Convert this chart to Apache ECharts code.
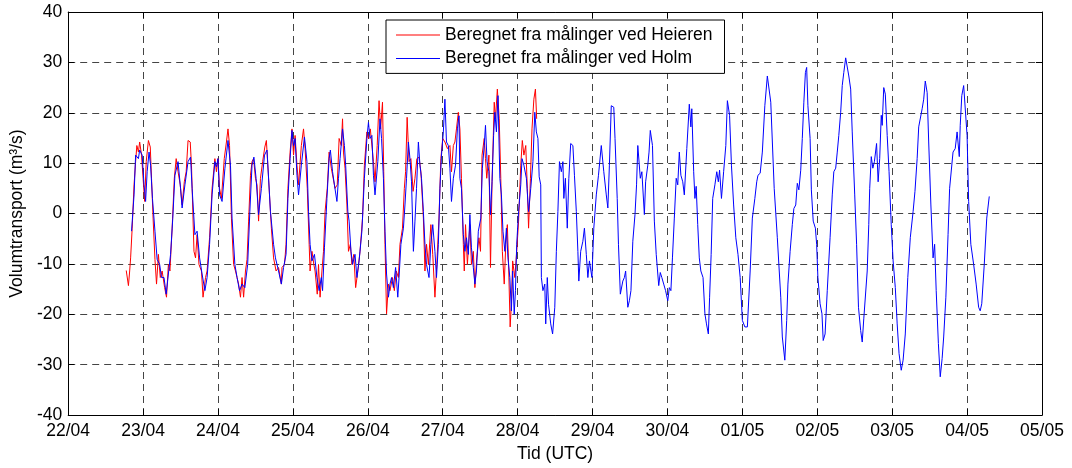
<!DOCTYPE html>
<html>
<head>
<meta charset="utf-8">
<script src="https://cdn.jsdelivr.net/npm/echarts@6/dist/echarts.min.js"></script>
<style>
  html, body { margin: 0; padding: 0; background: #fff; }
  #chart { width: 1072px; height: 468px; }
</style>
</head>
<body>
<div id="chart"></div>
<script>
// x in hours since 22/04 00:00 UTC, y in m3/s
const xTickLabels = ['22/04', '23/04', '24/04', '25/04', '26/04', '27/04', '28/04',
  '29/04', '30/04', '01/05', '02/05', '03/05', '04/05', '05/05'];
const yTicks = [-40, -30, -20, -10, 0, 10, 20, 30, 40];
const seriesNames = ['Beregnet fra målinger ved Heieren', 'Beregnet fra målinger ved Holm'];

const heieren = [
  [18.6,-11.3],[19.3,-14.3],[19.7,-11.4],[20.0,-8.8],[20.5,-2.9],[21.1,5.7],[21.6,10.3],[22.0,13.5],[22.5,12.2],[22.9,14.2],
  [23.5,11.6],[24.0,7],[24.5,2.4],[25.0,10.3],[25.7,14.5],[26.3,13.2],[26.7,7],[27.2,-0.9],[27.8,-9.1],[28.3,-14],
  [28.9,-8.1],[29.5,-12.7],[30.1,-11.4],[30.9,-14.7],[31.5,-16.6],[32.1,-10.1],[32.6,-11.4],[33.3,-2.9],[34.0,7],[34.6,10.9],
  [35.2,8.3],[35.9,5.7],[36.5,1.7],[37.2,6.3],[37.8,8.3],[38.4,14.5],[39.1,14.2],[39.5,9.6],[40.3,-7.5],[40.8,-8.8],
  [41.3,-4.2],[41.9,-10.1],[42.7,-11.4],[43.2,-16.6],[44.0,-12.7],[44.5,-11.4],[45.3,-4.8],[46.1,5],[47.0,10.9],[47.5,8.3],
  [48.0,10.9],[48.5,5],[49.1,3],[50.0,10.9],[50.7,14.2],[51.2,16.8],[51.7,13.5],[52.3,-0.9],[53.0,-10.1],[53.6,-11.4],
  [54.1,-12.7],[54.6,-14],[55.2,-16.6],[55.7,-12.7],[56.2,-16.6],[56.8,-11.4],[57.3,-9.1],[57.8,-1.5],[58.4,7.6],[58.9,10.3],
  [59.4,10.9],[60.0,7],[60.5,5.7],[61.0,-1.5],[61.6,7],[62.3,10.3],[63.0,13.2],[63.5,14.5],[64.2,7],[65.1,-2.9],
  [65.8,-8.8],[66.6,-11.4],[67.4,-10.7],[68.3,-14],[68.5,-10.7],[69.3,-10.1],[69.8,-6.1],[70.4,5],[71.1,12.2],[71.7,16.8],
  [72.2,11.6],[72.7,15.5],[73.3,9.6],[73.8,5.7],[74.7,13.5],[75.4,16.8],[75.9,12.9],[76.6,5],[77.2,-6.1],[77.5,-11.4],
  [78.1,-7.5],[78.7,-10.1],[79.1,-11.4],[79.8,-16],[80.2,-10.1],[80.7,-16.6],[81.3,-11.4],[81.8,-7.5],[82.3,0.4],[83.0,5],
  [83.6,12.2],[84.3,9],[84.9,9],[85.5,5],[86.2,5.7],[86.8,14.9],[87.5,13.5],[87.9,18.8],[88.2,12.2],[88.7,9],
  [89.3,1.7],[89.8,-7.5],[90.4,-6.1],[90.9,-10.1],[91.5,-8.1],[92.1,-14.7],[92.8,-11.4],[93.5,-7.5],[94.3,-0.9],[94.9,9.6],
  [95.7,16.2],[96.2,14.9],[96.8,16.8],[97.2,14.2],[97.8,10.3],[98.3,6.3],[99.0,13.5],[99.6,22.4],[100.1,16.8],[100.7,22.1],
  [101.1,8.3],[101.5,-6.1],[102.0,-19.9],[102.6,-14],[103.1,-15.3],[103.9,-12.7],[104.5,-15.3],[105.1,-11.4],[105.8,-12.7],[106.3,-6.1],
  [107.1,-2.9],[107.7,5],[108.1,8.3],[108.6,19.1],[109.2,10.3],[109.8,10.9],[110.5,4.4],[111.1,7],[111.7,10.9],[112.4,11.2],
  [113.0,8.3],[113.8,-0.9],[114.3,-11.4],[114.8,-6.1],[115.4,-10.1],[116.2,-2.2],[116.8,-8.1],[117.5,-16.6],[118.1,-10.1],[118.8,-0.9],
  [119.4,10.9],[120.0,14.9],[120.7,14.2],[121.5,12.9],[122.3,13.5],[122.8,8.3],[123.4,13.5],[123.9,14.2],[124.4,16.8],[125.0,20.1],
  [125.5,16.8],[126.0,7],[126.6,-6.1],[126.9,-11.4],[127.3,-2.2],[127.9,-10.1],[128.7,-2.2],[129.2,-10.1],[129.8,-7.5],[130.3,-14.7],
  [130.9,-8.8],[131.6,-4.8],[132.1,-7.5],[132.6,11.6],[133.3,14.9],[133.7,10.9],[134.1,7],[134.8,11.6],[135.3,-10.7],[135.8,6.3],
  [136.5,22.1],[136.9,18.8],[137.5,24.7],[138.1,18.8],[138.6,7],[139.1,-7.5],[139.7,-14],[140.2,-6.1],[140.7,-2.2],[141.1,-10.1],
  [141.6,-22.5],[142.0,-18],[142.4,-9.4],[143.1,-12.7],[143.7,-7.5],[144.3,-1.5],[145.0,9.6],[145.5,14.5],[146.0,11.6],[146.6,13.5],
  [147.1,5],[147.5,-2.9],[148.1,7],[148.6,16.8],[149.2,22.7],[149.7,24.7],[150.1,18.8]
];

const holm = [
  [20.3,-3.5],[21.1,3.7],[21.6,11.6],[22.5,10.9],[22.9,12.6],[23.7,11.6],[24.3,5.7],[24.8,2.4],[25.3,8.3],[25.9,12.2],
  [26.4,9.6],[27.0,3.0],[27.8,-3.5],[28.5,-9.1],[29.3,-10.1],[29.9,-12.7],[30.7,-12.7],[31.4,-16],[32.1,-12],[32.8,-8.1],
  [33.5,-1],[34.2,7.6],[35.2,10.3],[36.0,5],[36.5,1.1],[37.4,5.7],[38.4,10.3],[39.2,11.2],[39.7,5],[40.6,-4.2],
  [41.3,-3.5],[42.1,-8.8],[42.9,-12],[43.8,-15.3],[44.5,-12.7],[45.3,-6.1],[46.1,3.7],[47.0,10.3],[47.5,9.3],[48.0,10.9],
  [48.5,3.7],[49.3,2.4],[50.2,8.9],[51.2,14.5],[52.0,9.6],[52.5,-0.9],[53.4,-10.1],[54.1,-12.7],[54.9,-15.3],[55.7,-14],
  [56.6,-14.7],[57.5,-10.1],[58.2,0.4],[58.9,9.6],[59.5,11.2],[60.2,7],[61.0,-0.2],[61.9,5],[62.9,11.6],[63.7,12.6],
  [64.8,0.4],[65.8,-6.1],[66.4,-8.8],[67.4,-11.4],[68.3,-14],[69.0,-10.7],[69.8,-8.1],[70.4,3],[71.1,10.9],[71.7,16.5],
  [72.2,13.5],[72.7,14.9],[73.3,7.6],[73.8,3.7],[74.7,9.6],[75.7,15.2],[76.5,10.3],[77.0,0.4],[77.5,-6.1],[78.1,-9.4],
  [78.9,-8.1],[79.7,-12.7],[80.4,-15.3],[81.1,-12.7],[81.5,-15.3],[82.1,-6.8],[82.9,3],[83.6,10.9],[84.0,12.6],[84.7,8.3],
  [85.3,5.7],[86.1,2.4],[86.6,7],[87.1,10.9],[87.9,16.8],[88.5,13.5],[88.9,9.6],[89.6,0.4],[90.0,-1.5],[90.6,-7.5],
  [91.1,-10.1],[91.9,-8.1],[92.5,-12.7],[93.2,-9.4],[94.1,-3.5],[94.9,7],[95.7,14.9],[96.2,18.1],[96.7,14.9],[97.3,15.5],
  [97.8,7.6],[98.3,3.7],[99.2,10.3],[99.9,18.8],[100.4,14.9],[101.0,7],[101.5,-3.5],[102.0,-12],[102.6,-16.6],[103.1,-14],
  [103.6,-12.7],[104.2,-14.7],[104.9,-10.7],[105.6,-16.6],[106.0,-12.7],[106.6,-6.1],[107.4,-2.9],[107.9,1.7],[108.4,7],[109.0,14.2],
  [109.5,10.9],[110.0,6.3],[110.6,-7.5],[111.1,-1.5],[111.6,5],[112.2,14.2],[112.7,9.6],[113.2,7],[113.8,0.4],[114.3,-6.1],
  [114.8,-10.1],[115.6,-12.7],[116.2,-6.1],[116.8,-2.2],[117.5,-7.5],[118.0,-12.7],[118.6,-6.1],[119.1,5],[119.6,11.6],[120.2,16.2],
  [120.7,22.7],[121.2,14.2],[121.8,13.5],[122.3,9],[122.8,2.4],[123.4,7],[124.1,9.6],[124.7,16.8],[125.2,19.4],[125.5,7],
  [126.0,5],[126.6,-4.2],[127.1,-7.5],[127.6,-4.8],[128.2,-8.1],[128.7,-0.2],[129.2,-6.8],[129.8,-10.7],[130.3,-14],[130.8,-11.4],
  [131.4,-3.5],[132.2,-0.9],[132.7,9],[133.3,13.5],[133.7,17.5],[134.2,10.3],[134.8,8.3],[135.3,-0.2],[135.8,6.3],[136.3,15.5],
  [136.7,20.1],[137.2,16.2],[137.7,23.4],[138.3,7],[138.8,3.7],[139.3,-3.5],[139.9,-7.5],[140.4,-2.9],[140.9,-8.8],[141.5,-12.7],
  [142.0,-19.3],[142.4,-11.4],[142.9,-20],[143.3,-15.3],[143.7,-6.1],[144.3,0.4],[145.0,5.7],[145.4,10.9],[146.0,9.6],[146.8,7],
  [147.5,0.4],[148.2,5],[148.9,10.3],[149.5,20.1],[150.0,16.2],[150.5,14.9],[150.9,7.3],[151.4,5.7],[151.6,-12.7],[152.1,-15.3],
  [152.7,-14],[153.0,-21.9],[153.5,-12.7],[153.9,-18],[154.6,-21.9],[155.2,-23.9],[155.9,-18.6],[156.4,-7.5],[156.9,0.4],[157.4,10.3],
  [158.0,8.3],[158.5,10.3],[158.8,3],[159.3,7],[159.9,-2.9],[160.4,7],[161.0,13.9],[161.7,13.5],[162.2,7.6],[162.8,0.4],
  [163.3,-7.5],[163.6,-13.4],[164.2,-7.5],[164.9,-5.5],[165.4,-2.9],[166.0,-8.1],[166.5,-12.7],[167.0,-9.4],[167.8,-12.7],[168.4,-2.9],
  [169.2,3.7],[169.9,7.6],[170.8,13.5],[171.6,8.3],[172.4,3.7],[172.9,1.1],[173.4,9.6],[174.0,21.4],[174.8,21.1],[175.2,14.9],
  [175.9,3],[176.3,-6.1],[176.9,-16],[177.7,-13.4],[178.2,-12.7],[178.6,-11.4],[179.3,-18.6],[179.8,-17.3],[180.3,-15.3],[180.9,-5.5],
  [181.6,-0.2],[182.1,5.7],[182.5,13.5],[182.9,13.5],[183.3,7],[183.8,8.3],[184.6,-0.2],[185.0,6.3],[185.7,9.6],[186.1,12.2],
  [186.5,16.5],[187.2,13.5],[187.8,-1.5],[188.4,-8.1],[189.2,-14.3],[189.7,-11.7],[190.2,-12.7],[190.8,-14],[191.4,-15.3],[192.1,-17.3],
  [192.6,-14.7],[193.1,-15.3],[193.6,-8.8],[194.2,-0.9],[194.8,7],[195.3,5.7],[195.8,12.2],[196.3,7.6],[196.9,6.3],[197.4,3.7],
  [198.2,12.9],[199.0,21.7],[199.5,17.2],[199.8,20.8],[200.4,8.3],[200.8,3],[201.2,5.4],[201.7,-2.2],[202.2,-8.8],[202.7,-11.4],
  [203.4,-12.7],[204.0,-19.9],[204.5,-21.9],[205.1,-23.9],[205.5,-16.6],[206.0,-8.1],[206.5,3],[207.2,5.7],[207.8,8.3],[208.3,6.3],
  [208.7,8.6],[209.3,3],[210.0,8.3],[210.7,13.5],[211.2,22.4],[211.9,19.5],[212.5,9.6],[213.2,1.7],[213.9,-4.8],[214.6,-8.1],
  [215.3,-12.7],[216.0,-21.2],[216.8,-22.5],[217.6,-22.5],[218.5,-11.4],[219.2,-0.9],[220.0,3],[220.6,6.3],[221.0,7.6],[221.7,8],
  [222.4,12.2],[223.2,21.4],[224.0,27.3],[224.6,27.3],[225.1,22.1],[226.2,5],[227.2,-4.8],[228.3,-16.6],[228.8,-24.5],[229.6,-29.1],
  [230.2,-21.2],[230.6,-14],[231.3,-7.5],[232.0,-2.2],[232.5,1],[233.1,1.7],[233.6,6],[234.1,4.7],[234.7,8.6],[235.2,14.9],
  [235.7,22.1],[236.2,28],[236.6,29],[237.0,21.4],[237.7,14.9],[238.1,4.7],[238.7,-1.5],[239.4,-2.9],[239.8,-6.1],[240.2,-12.7],
  [240.9,-17.9],[241.5,-19.9],[241.9,-25.2],[242.5,-23.9],[243.2,-15.3],[244.1,-4.8],[244.8,3.7],[245.3,8.3],[245.9,9],[246.4,12.2],
  [246.9,15.5],[247.5,20.1],[248.0,25.4],[248.5,28],[249.1,30.9],[249.6,30.9],[250.1,27.3],[250.7,24.7],[251.2,16.2],[252.0,3.7],
  [252.6,-6.1],[253.2,-18.6],[253.9,-23.2],[254.4,-25.5],[254.9,-20.9],[255.5,-20.6],[256.0,-11.4],[256.5,-2.2],[256.8,5],[257.3,11.3],
  [257.8,9],[258.3,10.3],[259.0,13.9],[259.5,6.3],[260.0,10.9],[260.5,19.5],[260.8,17.5],[261.3,25],[261.8,23.7],[262.4,15.5],
  [263.0,8.3],[263.7,-2.2],[264.3,-9.4],[265.0,-14.7],[265.6,-21.9],[266.2,-27.8],[266.9,-31.1],[267.5,-29.1],[268.2,-23.9],[269.0,-12.7],
  [269.8,-4.8],[270.7,0.4],[271.3,4.4],[272.0,10.9],[272.5,17.2],[273.0,17.5],[273.6,20.8],[274.1,22.7],[274.6,26.3],[275.2,24],
  [275.7,14.2],[276.4,1.7],[277.1,-8.8],[277.6,-6.1],[278.1,-15.3],[278.8,-25.8],[279.4,-32.4],[280.0,-28.8],[280.5,-24.5],[281.2,-16.6],
  [281.9,-4.2],[282.4,5],[282.9,5],[283.5,12.2],[284.2,12.9],[284.8,16.2],[285.5,11.3],[285.8,17.5],[286.3,23.4],[286.9,25.4],
  [287.4,25.4],[288.0,15.5],[288.5,2.4],[289.2,-6.1],[290.1,-10.1],[290.9,-14],[291.7,-18.6],[292.2,-19.3],[292.7,-17.9],[293.5,-10.1],
  [294.3,-0.9],[295.1,3.4]
];

const FONT = 'Liberation Sans, Arial, Helvetica, sans-serif';
const FS = 17.5;
const gridLine = { show: true, lineStyle: { color: '#444', width: 1, type: [7, 5] } };
const frameLine = { show: true, onZero: false, lineStyle: { color: '#000', width: 1 } };
const innerTick = { show: true, inside: true, length: 6, lineStyle: { color: '#000' } };

const chart = echarts.init(document.getElementById('chart'), null, { renderer: 'canvas' });

chart.setOption({
  animation: false,
  backgroundColor: '#fff',
  textStyle: { fontFamily: FONT },
  grid: { left: 66, right: 30, top: 12, bottom: 49, containLabel: false },
  legend: {
    orient: 'vertical',
    left: 386,
    top: 20,
    data: seriesNames.map(n => ({ name: n, icon: 'rect' })),
    backgroundColor: '#fff',
    borderColor: '#000',
    borderWidth: 1,
    borderRadius: 0,
    padding: [5, 12, 5, 10],
    itemWidth: 44,
    itemHeight: 1,
    itemGap: 3.4,
    textStyle: { fontFamily: FONT, fontSize: FS, color: '#000', lineHeight: 20 }
  },
  xAxis: [{
    type: 'value',
    min: 0,
    max: 312,
    interval: 24,
    name: 'Tid (UTC)',
    nameLocation: 'middle',
    nameGap: 29,
    nameTextStyle: { fontFamily: FONT, fontSize: FS, color: '#000' },
    axisLine: frameLine,
    axisTick: innerTick,
    axisLabel: {
      margin: 7, color: '#000', fontFamily: FONT, fontSize: FS,
      showMinLabel: true, showMaxLabel: true,
      formatter: v => xTickLabels[Math.round(v / 24)]
    },
    splitLine: gridLine
  }, {
    type: 'value', position: 'top', min: 0, max: 312, interval: 24,
    axisLine: frameLine, axisTick: innerTick, axisLabel: { show: false }, splitLine: { show: false }
  }],
  yAxis: [{
    type: 'value',
    min: yTicks[0],
    max: yTicks[yTicks.length - 1],
    interval: 10,
    name: 'Volumtransport (m³/s)',
    nameLocation: 'middle',
    nameGap: 37,
    nameTextStyle: { fontFamily: FONT, fontSize: FS, color: '#000' },
    axisLine: frameLine,
    axisTick: innerTick,
    axisLabel: { margin: 6, color: '#000', fontFamily: FONT, fontSize: FS, showMinLabel: true, showMaxLabel: true },
    splitLine: gridLine
  }, {
    type: 'value', position: 'right', min: -40, max: 40, interval: 10,
    axisLine: frameLine, axisTick: innerTick, axisLabel: { show: false }, splitLine: { show: false }
  }],
  series: [{
    name: seriesNames[0],
    type: 'line',
    data: heieren,
    symbol: 'none',
    color: '#ff0000',
    lineStyle: { color: '#ff0000', width: 1 },
    z: 2
  }, {
    name: seriesNames[1],
    type: 'line',
    data: holm,
    symbol: 'none',
    color: '#0000ff',
    lineStyle: { color: '#0000ff', width: 1 },
    z: 3
  }]
});
</script>
</body>
</html>
